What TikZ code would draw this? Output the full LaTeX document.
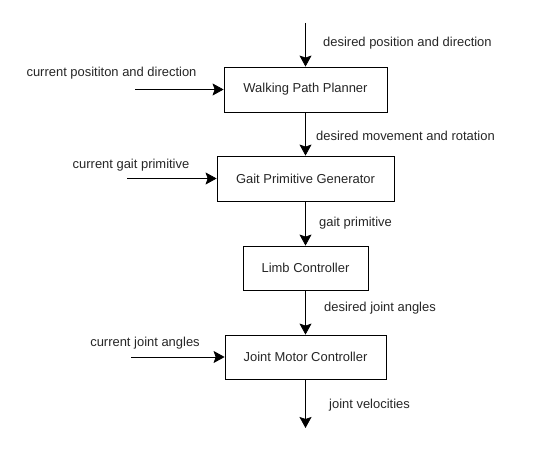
\documentclass[tikz,border=0pt]{standalone}
\usepackage{fontspec}
\setmainfont{Liberation Sans}
\usetikzlibrary{arrows.meta}
\begin{document}
\begin{tikzpicture}[x=1bp,y=-1bp,
  every node/.style={font=\fontsize{13}{15}\selectfont, text=black!85},
  block/.style={draw=black, line width=0.8bp, minimum height=45bp, inner sep=0pt},
  lbl/.style={inner sep=0pt},
  flow/.style={draw=black, line width=0.8bp, -{Stealth[length=11bp,width=12bp,inset=2bp]}}]
\useasboundingbox (0,0) rectangle (540,453);
\fill[white] (0,0) rectangle (540,453);
% blocks
\node[block, minimum width=163bp] (wpp) at (305.5,89.5) {Walking Path Planner};
\node[block, minimum width=177bp] (gpg) at (305.5,178.5) {Gait Primitive Generator};
\node[block, minimum width=125bp, minimum height=44bp] (lc) at (305.5,268) {Limb Controller};
\node[block, minimum width=161bp, minimum height=44bp] (jmc) at (305.5,357) {Joint Motor Controller};
% free ends
\coordinate (top) at (305.5,23);
\coordinate (bot) at (305.5,428);
\coordinate (in1) at (135,89.5);
\coordinate (in2) at (127,178.5);
\coordinate (in3) at (131,357);
% connectors
\draw[flow] (top) -- (wpp.north);
\draw[flow] (wpp.south) -- (gpg.north);
\draw[flow] (gpg.south) -- (lc.north);
\draw[flow] (lc.south) -- (jmc.north);
\draw[flow] (jmc.south) -- (bot);
\draw[flow] (in1) -- (wpp.west);
\draw[flow] (in2) -- (gpg.west);
\draw[flow] (in3) -- (jmc.west);
% labels
\node[lbl, anchor=west] (l1) at (323,43) {desired position and direction};
\node[lbl] (l2) at (111.5,73) {current posititon and direction};
\node[lbl, anchor=west] (l3) at (316,136) {desired movement and rotation};
\node[lbl] (l4) at (131,165) {current gait primitive};
\node[lbl, anchor=west] (l5) at (319,223) {gait primitive};
\node[lbl, anchor=west] (l6) at (324,308) {desired joint angles};
\node[lbl] (l7) at (145,343) {current joint angles};
\node[lbl, anchor=west] (l8) at (329,405) {joint velocities};
\end{tikzpicture}
\end{document}
